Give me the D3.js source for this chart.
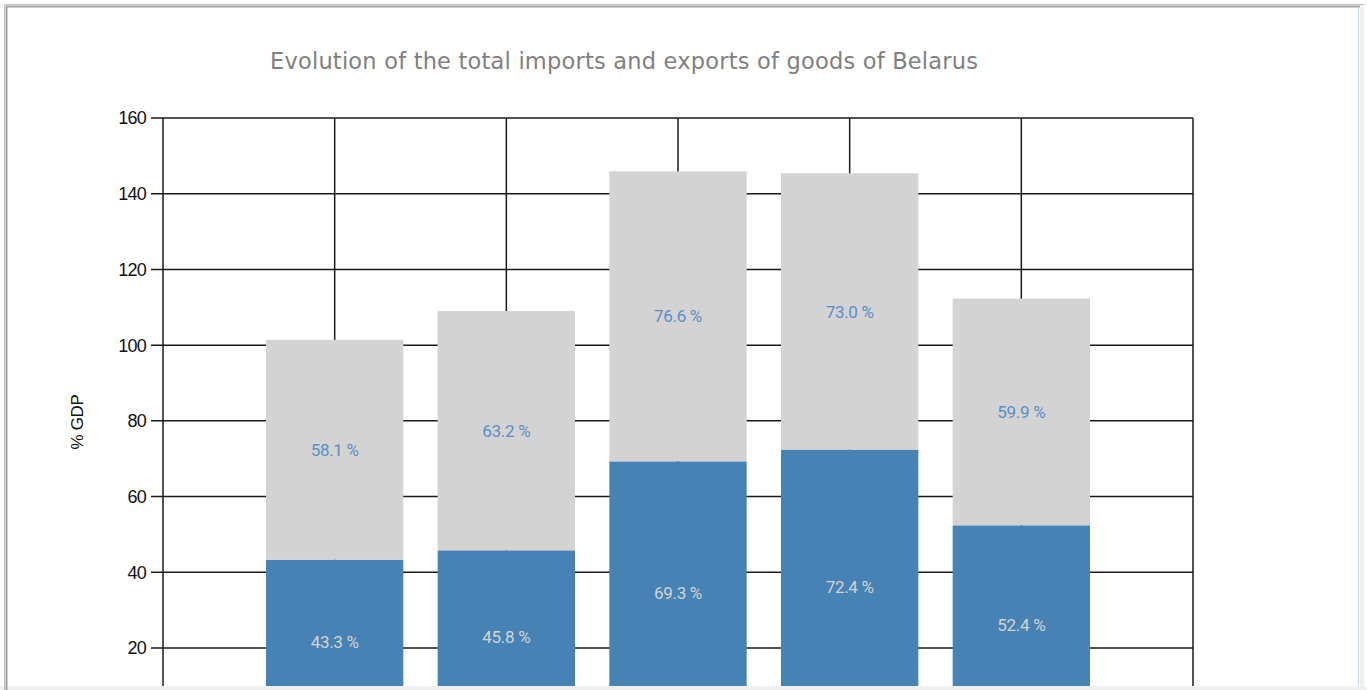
<!DOCTYPE html>
<html>
<head>
<meta http-equiv="Content-Type" content="text/html;charset=utf-8">
<script src="https://d3js.org/d3.v7.min.js"></script>
<style>
  body { margin: 0; background: #fff; overflow: hidden; }
</style>
</head>
<body>
<svg id="chart" width="1367" height="690"></svg>
<script type="text/javascript">

// data (x labels are below the visible frame)
var categories = [1, 2, 3, 4, 5];
var exportsGdp = [43.3, 45.8, 69.3, 72.4, 52.4];
var importsGdp = [58.1, 63.2, 76.6, 73.0, 59.9];
var yTicks = [20, 40, 60, 80, 100, 120, 140, 160];

var svg = d3.select("#chart");

// window frame
svg.append("rect").attr("x", 0).attr("y", 686).attr("width", 1367).attr("height", 4).attr("fill", "#f0f0f0");
svg.append("rect").attr("x", 1360).attr("y", 4).attr("width", 4).attr("height", 686).attr("fill", "#f0f0f0");
svg.append("path").attr("d", "M4.5,690V4.5H1364").attr("fill", "none").attr("stroke", "#b8c2c8").attr("stroke-width", 1);
svg.append("path").attr("d", "M6.5,690V6.5H1360").attr("fill", "none").attr("stroke", "#a0a0a0").attr("stroke-width", 2);
svg.append("line").attr("x1", 1358.5).attr("x2", 1358.5).attr("y1", 8).attr("y2", 686)
  .attr("stroke", "#c4d8e6").attr("stroke-width", 1);

svg.append("clipPath").attr("id", "clip")
  .append("rect").attr("x", 8).attr("y", 8).attr("width", 1350).attr("height", 678);

var g = svg.append("g").attr("clip-path", "url(#clip)");

var x = d3.scaleLinear().domain([0, 6]).range([163, 1193]);
var y = d3.scaleLinear().domain([0, 160]).range([723.7, 118]);
var barW = (x(1) - x(0)) * 0.8;

// title
g.append("text")
  .attr("x", 270).attr("y", 69)
  .attr("font-family", "DejaVu Sans, Verdana, sans-serif")
  .attr("font-size", 22.5)
  .attr("textLength", 708)
  .attr("lengthAdjust", "spacing")
  .attr("fill", "#808080")
  .text("Evolution of the total imports and exports of goods of Belarus");

// grid
g.selectAll(".hgrid").data(yTicks).enter().append("line")
  .attr("x1", 151).attr("x2", x(6))
  .attr("y1", function(d) { return y(d); }).attr("y2", function(d) { return y(d); })
  .attr("stroke", "#1a1a1a").attr("stroke-width", 1.5);
g.selectAll(".vgrid").data(d3.range(0, 7)).enter().append("line")
  .attr("x1", function(d) { return x(d); }).attr("x2", function(d) { return x(d); })
  .attr("y1", y(160)).attr("y2", y(0))
  .attr("stroke", "#1a1a1a").attr("stroke-width", 1.5);

// y tick labels
g.selectAll(".ytl").data(yTicks).enter().append("text")
  .attr("x", 146).attr("y", function(d) { return y(d); })
  .attr("dy", "0.36em")
  .attr("text-anchor", "end")
  .attr("font-family", "Liberation Sans, Arial, sans-serif")
  .attr("font-size", 18)
  .attr("letter-spacing", -0.8)
  .attr("fill", "#111")
  .text(function(d) { return d; });

g.append("text")
  .attr("transform", "translate(83,422) rotate(-90)")
  .attr("text-anchor", "middle")
  .attr("font-family", "Liberation Sans, Arial, sans-serif")
  .attr("font-size", 17)
  .attr("letter-spacing", -0.3)
  .attr("fill", "#111")
  .text("% GDP");

// bars
var bars = g.selectAll(".bar").data(categories).enter().append("g");

bars.append("rect")
  .attr("x", function(d) { return x(d) - barW / 2; })
  .attr("width", barW)
  .attr("y", function(d, i) { return y(exportsGdp[i]); })
  .attr("height", function(d, i) { return y(0) - y(exportsGdp[i]); })
  .attr("fill", "#4682b4");

bars.append("rect")
  .attr("x", function(d) { return x(d) - barW / 2; })
  .attr("width", barW)
  .attr("y", function(d, i) { return y(exportsGdp[i] + importsGdp[i]); })
  .attr("height", function(d, i) { return y(exportsGdp[i]) - y(exportsGdp[i] + importsGdp[i]); })
  .attr("fill", "#d3d3d3");

bars.append("text")
  .attr("x", function(d) { return x(d); })
  .attr("y", function(d, i) { return (y(0) + y(exportsGdp[i])) / 2; })
  .attr("dy", "0.36em")
  .attr("text-anchor", "middle")
  .attr("font-family", "Roboto, sans-serif")
  .attr("font-size", 17)
  .attr("letter-spacing", -0.3)
  .attr("fill", "#d3d3d3")
  .text(function(d, i) { return exportsGdp[i].toFixed(1) + " %"; });

bars.append("text")
  .attr("x", function(d) { return x(d); })
  .attr("y", function(d, i) { return (y(exportsGdp[i]) + y(exportsGdp[i] + importsGdp[i])) / 2; })
  .attr("dy", "0.36em")
  .attr("text-anchor", "middle")
  .attr("font-family", "Roboto, sans-serif")
  .attr("font-size", 17)
  .attr("letter-spacing", -0.3)
  .attr("fill", "#5a8fc6")
  .text(function(d, i) { return importsGdp[i].toFixed(1) + " %"; });

</script>
</body>
</html>
